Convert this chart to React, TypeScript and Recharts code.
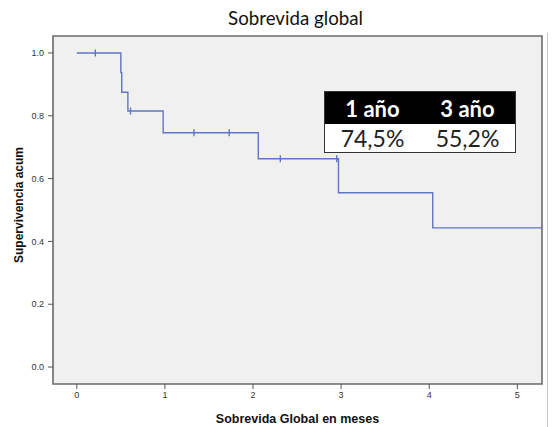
import React from 'react';
import { ComposedChart, Line, Scatter, XAxis, YAxis, ReferenceArea } from 'recharts';

// Kaplan-Meier step points (time in months, cumulative survival)
const survivalTimes = [0, 0.5, 0.51, 0.58, 0.98, 2.06, 2.97, 4.04, 5.28];
const survivalValues = [1.0, 0.9375, 0.875, 0.815, 0.746, 0.663, 0.555, 0.443, 0.443];
// Censored observations
const censorTimes = [0.21, 0.61, 1.33, 1.73, 2.31, 2.95];
const censorValues = [1.0, 0.815, 0.746, 0.746, 0.663, 0.663];

const xTicks = [0, 1, 2, 3, 4, 5];
const yTicks = [0, 0.2, 0.4, 0.6, 0.8, 1.0];
const xDomain = [-0.27, 5.28];
const yDomain = [-0.054, 1.054];

const tableHeaders = ['1 año', '3 año'];
const tableValues = ['74,5%', '55,2%'];

const titleText = 'Sobrevida global';
const xTitle = 'Sobrevida Global en meses';
const yTitle = 'Supervivencia acum';

const curveData = survivalTimes.map((t, i) => ({ t, s: survivalValues[i] }));
const censorData = censorTimes.map((t, i) => ({ t, s: censorValues[i] }));

const LINE_COLOR = '#6075c4';
const AXIS_FONT = 'Liberation Sans, Arial, sans-serif';

const CensorMark = (props: any) => {
  const { cx, cy } = props;
  if (cx == null || cy == null) return null;
  return <line x1={cx} x2={cx} y1={cy - 3.5} y2={cy + 3.5} stroke={LINE_COLOR} strokeWidth={1.4} />;
};

const YTitle = (props: any) => {
  const vb = props.viewBox || { x: 0, y: 36, height: 348 };
  const cx = 19;
  const cy = vb.y + vb.height / 2 - 5;
  return (
    <text
      x={cx}
      y={cy}
      transform={`rotate(-90, ${cx}, ${cy})`}
      textAnchor="middle"
      dominantBaseline="central"
      fontFamily={AXIS_FONT}
      fontWeight="bold"
      fontSize={12}
      fill="#111"
    >
      {yTitle}
    </text>
  );
};

export default function App() {
  return (
    <div style={{ position: 'absolute', left: 0, top: 0, width: 554, height: 427, background: '#fff' }}>
      <ComposedChart
        width={554}
        height={427}
        margin={{ top: 36, right: 12, bottom: 0, left: 0 }}
      >
        <ReferenceArea
          x1={xDomain[0]}
          x2={xDomain[1]}
          y1={yDomain[0]}
          y2={yDomain[1]}
          fill="#f0f0f0"
          fillOpacity={1}
          stroke="#6a6a6a"
          strokeWidth={1.6}
        />
        <XAxis
          dataKey="t"
          type="number"
          domain={xDomain}
          ticks={xTicks}
          allowDataOverflow
          axisLine={false}
          tickLine={{ stroke: '#555' }}
          tickSize={5}
          tickMargin={3}
          height={43}
          tick={{ fontSize: 9, fill: '#333', fontFamily: AXIS_FONT }}
          label={{
            value: xTitle,
            position: 'insideBottom',
            offset: 4,
            fontSize: 12.5,
            fontWeight: 'bold',
            fill: '#111',
            fontFamily: AXIS_FONT,
          }}
        />
        <YAxis
          dataKey="s"
          type="number"
          domain={yDomain}
          ticks={yTicks}
          allowDataOverflow
          axisLine={false}
          tickLine={{ stroke: '#555' }}
          tickSize={5}
          tickMargin={4}
          width={53}
          tickFormatter={(v: number) => v.toFixed(1)}
          tick={{ fontSize: 9, fill: '#333', fontFamily: AXIS_FONT }}
          label={<YTitle />}
        />
        <Line
          data={curveData}
          dataKey="s"
          type="stepAfter"
          stroke={LINE_COLOR}
          strokeWidth={1.4}
          dot={false}
          isAnimationActive={false}
        />
        <Scatter
          data={censorData}
          dataKey="s"
          shape={<CensorMark />}
          isAnimationActive={false}
        />
      </ComposedChart>

      <div
        style={{
          position: 'absolute',
          left: 0,
          top: 5,
          width: 591,
          textAlign: 'center',
          fontFamily: 'Lato, sans-serif',
          fontSize: 18.7,
          color: '#111',
          lineHeight: '26px',
        }}
      >
        {titleText}
      </div>

      <div style={{ position: 'absolute', left: 547, top: 33, width: 1, height: 394, background: '#c8c8c8' }} />

      <div
        style={{
          position: 'absolute',
          left: 324,
          top: 91,
          width: 190,
          border: '1.5px solid #333',
          fontFamily: 'Lato, sans-serif',
        }}
      >
        <div style={{ display: 'flex', background: '#000', height: 32, alignItems: 'center' }}>
          {tableHeaders.map((h) => (
            <div key={h} style={{ flex: 1, textAlign: 'center', color: '#fff', fontWeight: 'bold', fontSize: 22 }}>
              {h}
            </div>
          ))}
        </div>
        <div style={{ display: 'flex', background: '#fff', height: 28, alignItems: 'center' }}>
          {tableValues.map((v) => (
            <div key={v} style={{ flex: 1, textAlign: 'center', color: '#222', fontSize: 23 }}>
              {v}
            </div>
          ))}
        </div>
      </div>
    </div>
  );
}
